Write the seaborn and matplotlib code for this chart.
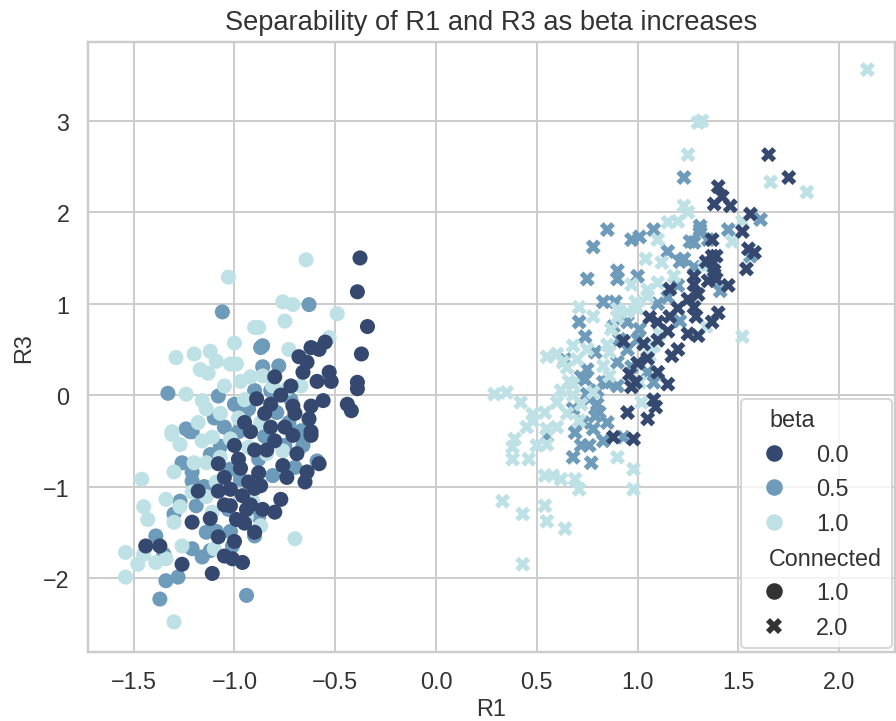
import matplotlib
matplotlib.use("Agg")
import matplotlib.pyplot as plt
from matplotlib.offsetbox import HPacker, DrawingArea, TextArea
import seaborn as sns
import pandas as pd

# ---- data ----
circ_b0 = [(-0.377,1.50),(-0.39,1.13),(-0.34,0.75),(-0.37,0.45),(-0.39,0.14),(-0.39,0.07),(-0.44,-0.10),(-0.42,-0.17),
(-0.62,0.52),(-0.58,0.50),(-0.55,0.58),(-0.68,0.42),(-0.64,0.36),(-0.53,0.25),(-0.52,0.15),(-0.59,0.15),
(-0.71,-0.12),(-0.62,-0.12),(-0.56,-0.06),(-0.63,-0.26),(-0.62,-0.40),(-0.62,-0.44),(-0.58,-0.75),(-0.69,-0.64),
(-0.71,-0.44),(-0.64,-0.84),(-0.65,-0.95),(-0.77,-1.14),(-0.80,-1.28),(-0.76,-0.77),(-0.87,-0.99),(-0.89,-0.04),
(-1.44,-1.65),(-1.37,-1.65),(-1.26,-1.85),(-1.11,-1.95),(-1.21,-1.39),(-1.02,-1.03),(-0.99,-1.36),(-0.94,-1.25),
(-1.08,-1.55),(-1.05,-1.76),(-0.96,-1.83),(-0.96,-1.10),(-0.92,-1.20),(-0.90,-1.02),(-1.02,-1.21),(-1.01,-1.79),
(-0.95,-0.3),(-0.85,-0.2),(-0.8,-0.5),(-0.9,-0.6),(-0.75,-0.35),(-0.7,-0.2),(-0.98,-0.7),(-0.88,-0.85),(-0.92,-0.4),
(-0.82,-0.1),(-0.77,0.0),(-1.05,-0.9),(-1.0,-0.55),(-0.72,0.1),(-0.8,0.2),(-0.66,0.25),(-0.95,-1.4),(-1.05,-1.2),
(-0.86,-1.25),(-1.12,-1.35),(-1.18,-1.05),(-1.0,-1.6),(-0.93,-0.95),(-1.08,-0.75),(-0.84,-0.6),(-0.9,-1.5),
(-0.97,-0.8),(-0.82,-0.35),(-1.08,-1.05),(-0.74,-0.9)]

circ_b05 = [(-1.06,0.91),(-0.87,0.52),(-1.33,0.02),(-1.08,-0.01),(-1.24,-0.37),(-1.21,-0.40),(-0.63,0.99),(-0.86,0.54),
(-0.78,0.32),(-0.86,0.31),(-0.79,-0.19),(-0.73,-0.30),(-0.67,-0.39),(-1.22,-0.40),(-1.07,-0.56),(-1.26,-0.74),
(-1.21,-0.84),(-1.21,-0.94),(-1.02,-0.81),(-0.97,-0.92),(-1.27,-1.16),(-1.19,-1.21),(-1.03,-1.25),(-1.14,-1.50),
(-1.09,-1.49),(-1.02,-1.49),(-1.39,-1.54),(-1.21,-1.68),(-1.12,-1.70),(-1.01,-1.65),(-1.35,-1.74),(-1.16,-1.77),
(-1.34,-2.03),(-1.28,-1.99),(-1.37,-2.23),(-0.94,-2.19),(-0.59,-0.72),(-0.67,-0.40),(-0.70,-0.79),(-0.81,-0.88),
(-0.88,-1.33),(-0.90,-1.54),(-0.66,-0.55),(-0.95,-0.2),(-0.85,-0.45),(-1.1,-0.25),(-0.9,0.05),(-1.0,-0.1),
(-0.75,-0.55),(-1.15,-1.0),(-1.3,-1.3),(-0.82,0.05),(-0.72,-0.05),(-0.98,-0.4),(-0.93,-0.15),(-1.05,-0.35),
(-0.88,-0.7),(-1.12,-0.65)]

circ_b1 = [(-0.645,1.48),(-1.03,1.29),(-1.00,0.57),(-1.29,0.41),(-1.12,0.48),(-1.09,0.37),(-1.17,0.28),(-1.13,0.24),
(-1.02,0.34),(-0.99,0.34),(-1.24,0.01),(-1.16,-0.06),(-1.14,-0.15),(-1.31,-0.40),(-0.90,0.74),(-0.76,1.02),
(-0.71,0.99),(-0.49,0.89),(-0.75,0.81),(-0.88,0.74),(-0.73,0.50),(-0.53,0.63),(-0.86,0.21),(-0.74,0.07),
(-0.67,0.10),(-0.87,-0.30),(-1.31,-0.43),(-1.27,-0.54),(-1.16,-0.50),(-1.11,-0.46),(-1.02,-0.48),(-0.93,-0.57),
(-1.20,-0.74),(-1.14,-0.74),(-1.07,-0.68),(-1.30,-0.84),(-1.46,-0.92),(-1.09,-0.95),(-1.21,-1.06),(-1.34,-1.14),
(-1.27,-1.22),(-1.14,-1.11),(-1.11,-1.28),(-1.43,-1.36),(-1.30,-1.39),(-0.94,-1.33),(-1.26,-1.65),(-1.10,-1.68),
(-1.45,-1.74),(-1.39,-1.83),(-1.34,-1.79),(-1.48,-1.85),(-1.30,-2.48),(-1.54,-1.72),(-1.54,-1.99),(-1.45,-1.22),
(-0.70,-1.57),(-0.76,-0.61),(-0.84,-0.64),(-0.91,-1.16),(-0.87,-1.43),(-0.95,-0.05),(-1.05,0.1),(-0.98,-0.25),
(-1.2,0.45),(-0.97,0.15),(-0.92,0.2),(-1.07,-0.2),(-0.81,0.1),(-1.18,-0.3)]

cross_b0 = [(0.95,-0.19),(1.05,-0.26),(0.88,-0.46),(1.09,-0.13),(0.97,0.09),(1.37,1.52),(1.34,1.46),(1.28,1.30),
(1.28,1.21),(1.38,1.32),(1.16,1.16),(1.06,0.85),(1.10,0.80),(1.28,0.96),(1.29,0.86),(1.16,0.86),(1.37,0.80),
(1.25,0.67),(0.93,0.59),(1.03,0.56),(1.17,0.43),(0.96,0.23),(0.99,0.14),(1.10,0.25),(1.15,0.12),(1.65,2.63),
(1.75,2.38),(1.40,2.28),(1.42,2.17),(1.38,2.09),(1.46,2.07),(1.56,1.98),(1.52,1.79),(1.37,1.70),(1.55,1.60),
(1.58,1.56),(1.39,1.52),(1.37,1.46),(1.54,1.38),(1.39,1.27),(1.38,1.36),(1.1,0.6),(1.2,0.95),(1.25,1.05),
(1.3,1.1),(1.05,0.4),(1.0,0.35),(1.2,0.5),(1.15,0.7),(1.3,0.65),(1.08,-0.05),(1.4,0.9),(1.45,1.2),(1.35,1.25),
(0.98,-0.48)]

cross_b05 = [(0.55,-0.45),(0.68,-0.15),(0.69,-0.41),(0.68,-0.68),(0.77,-0.74),(0.76,-0.55),(0.78,-0.37),(0.76,-0.04),
(0.85,0.14),(0.93,-0.46),(0.79,-0.23),(0.81,-0.19),(1.08,0.14),(0.85,1.81),(0.78,1.62),(0.97,1.70),(1.01,1.73),
(1.08,1.81),(1.15,1.57),(0.90,1.36),(0.90,1.27),(0.75,1.27),(1.28,1.67),(1.31,1.81),(1.21,1.46),(1.15,1.07),
(0.83,1.02),(0.71,0.80),(0.89,1.02),(1.21,0.81),(1.01,0.72),(0.74,0.64),(0.91,0.61),(1.00,0.61),(0.79,0.47),
(0.64,0.39),(0.75,0.28),(0.90,0.36),(0.97,0.31),(1.05,0.25),(0.83,0.14),(0.74,0.17),(0.75,0.01),(1.23,2.38),
(1.61,1.92),(1.45,1.81),(1.31,1.85),(1.31,1.78),(1.26,1.68),(1.35,1.70),(1.56,1.52),(1.23,1.49),(1.28,1.40),
(1.41,1.14),(0.72,0.2),(0.8,-0.1),(0.85,-0.3),(0.73,-0.3),(0.8,0.05),(0.9,0.1),(0.83,-0.5),(0.72,-0.55),
(0.95,0.5),(1.1,1.0),(1.2,1.2),(1.0,1.3),(0.95,0.8),(0.88,0.75)]

cross_b1 = [(0.29,0.01),(0.35,0.03),(0.42,-0.08),(0.48,-0.21),(0.48,-0.28),(0.54,-0.19),(0.60,-0.08),(0.55,-0.37),
(0.55,-0.54),(0.39,-0.48),(0.38,-0.57),(0.38,-0.70),(0.46,-0.70),(0.54,-0.88),(0.58,-0.88),(0.62,-0.92),
(0.69,-0.92),(0.71,-1.03),(0.33,-1.16),(0.43,-1.30),(0.54,-1.21),(0.55,-1.38),(0.64,-1.46),(0.43,-1.85),
(0.98,-0.81),(0.98,-1.03),(0.90,-0.68),(0.68,0.0),(0.71,-0.28),(1.02,-0.08),(1.15,1.89),(1.04,1.49),(0.97,1.21),
(1.10,1.23),(1.18,1.30),(1.05,1.08),(0.99,1.02),(0.71,0.96),(0.78,0.86),(0.90,0.94),(0.95,0.91),(1.34,0.75),
(1.11,0.67),(0.87,0.72),(0.68,0.54),(1.08,0.54),(1.06,0.43),(0.86,0.47),(0.70,0.39),(0.83,0.32),(1.01,0.14),
(0.86,0.21),(0.68,0.12),(0.63,0.36),(0.78,0.03),(2.14,3.56),(1.30,2.98),(1.25,2.63),(1.66,2.33),(1.84,2.22),
(1.23,2.07),(1.52,1.90),(1.47,1.68),(1.33,1.40),(1.52,0.64),(0.6,0.45),(0.55,0.42),(0.65,0.3),(0.62,0.05),
(0.75,0.5),(0.85,0.55),(0.9,0.85),(1.0,0.95),(1.05,1.15),(0.65,-0.2),(0.6,-0.35),(0.72,-0.1),(0.5,-0.55),
(0.45,-0.35),(0.66,0.15),(1.12,1.45),(1.1,1.7),(1.2,1.9),(1.25,2.0),(1.32,3.0)]

beta_levels = [0.0, 0.5, 1.0]
connected_levels = [1.0, 2.0]
palette_colors = ["#344870", "#6e9bb9", "#bee1e6"]
subtitles = ["beta", "Connected"]

groups = [
    (circ_b05, 0.5, 1.0), (circ_b1, 1.0, 1.0), (circ_b0, 0.0, 1.0),
    (cross_b05, 0.5, 2.0), (cross_b1, 1.0, 2.0), (cross_b0, 0.0, 2.0),
]
rows = []
for pts, b, c in groups:
    for (x, y) in pts:
        rows.append({"R1": x, "R3": y, "beta": b, "Connected": c})
df = pd.DataFrame(rows)

sns.set_theme(style="whitegrid")
plt.rcParams["font.family"] = ["Liberation Sans", "DejaVu Sans"]
plt.rcParams["text.color"] = "#333333"
plt.rcParams["axes.labelcolor"] = "#333333"
plt.rcParams["xtick.color"] = "#333333"
plt.rcParams["ytick.color"] = "#333333"

fig, ax = plt.subplots(figsize=(6.407, 5.157), dpi=140)
sns.scatterplot(data=df, x="R1", y="R3", hue="beta", style="Connected",
                hue_order=beta_levels, style_order=connected_levels,
                palette=palette_colors, s=60, linewidth=0, ax=ax)
ax.set_xlim(-1.727, 2.278)
ax.set_ylim(-2.809, 3.858)
ax.set_xticks([-1.5, -1.0, -0.5, 0.0, 0.5, 1.0, 1.5, 2.0])
ax.set_yticks([-2, -1, 0, 1, 2, 3])
ax.tick_params(labelsize=12)
ax.set_xlabel("R1", fontsize=12, labelpad=2)
ax.set_ylabel("R3", fontsize=12)
ax.set_title("Separability of R1 and R3 as beta increases", fontsize=14, pad=7)
leg = ax.legend(loc="lower right", fontsize=12, markerscale=1.1, borderaxespad=0.15)
# make subtitle entries sit at the left like titles
for hp in leg.findobj(HPacker):
    ch = hp.get_children()
    if len(ch) == 2 and isinstance(ch[0], DrawingArea) and isinstance(ch[1], TextArea):
        if ch[1].get_text() in subtitles:
            ch[0].set_width(0)
fig.subplots_adjust(left=0.098, right=0.998, top=0.940, bottom=0.0956)
fig.savefig("out.png", dpi=140)
